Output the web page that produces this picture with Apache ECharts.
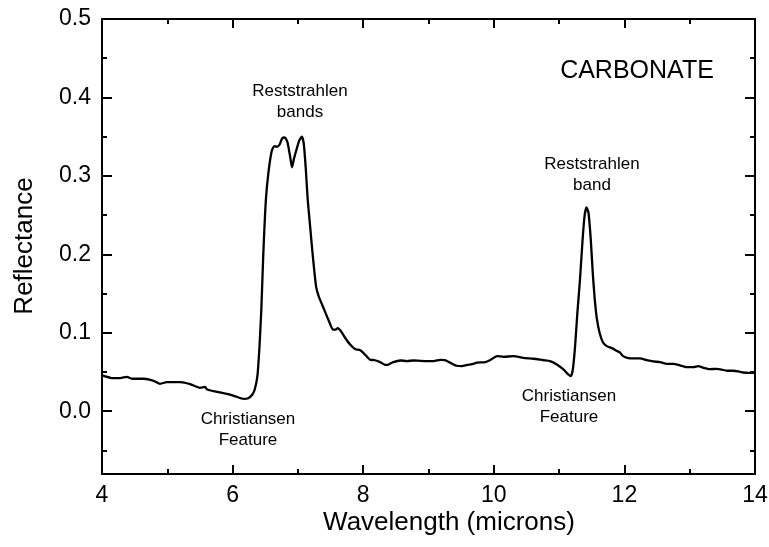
<!DOCTYPE html>
<html>
<head>
<meta charset="utf-8">
<script src="https://cdn.jsdelivr.net/npm/echarts@6/dist/echarts.min.js"></script>
<style>
  html, body { margin: 0; padding: 0; background: #fff; }
  #main { width: 769px; height: 547px; }
</style>
</head>
<body>
<div id="main"></div>
<script>
// spectrum: wavelength (microns) / reflectance
const wavelength = [
  4.00, 4.13, 4.28, 4.38, 4.46, 4.64, 4.79, 4.89, 4.99, 5.20,
  5.35, 5.50, 5.58, 5.61, 5.76, 6.01, 6.17, 6.24, 6.30, 6.34,
  6.38, 6.41, 6.44, 6.47, 6.51, 6.55, 6.60, 6.64, 6.68, 6.72,
  6.76, 6.80, 6.84, 6.88, 6.91, 6.94, 6.98, 7.02, 7.06, 7.09,
  7.12, 7.15, 7.19, 7.22, 7.25, 7.28, 7.32, 7.37, 7.42, 7.47,
  7.54, 7.58, 7.61, 7.66, 7.72, 7.80, 7.88, 7.95, 8.03, 8.10,
  8.18, 8.26, 8.34, 8.39, 8.46, 8.57, 8.67, 8.77, 8.87, 8.97,
  9.08, 9.18, 9.25, 9.33, 9.43, 9.51, 9.59, 9.69, 9.74, 9.87,
  9.94, 10.05, 10.15, 10.30, 10.45, 10.61, 10.76, 10.86, 10.965, 11.07,
  11.14, 11.18, 11.21, 11.245, 11.28, 11.32, 11.36, 11.39, 11.42, 11.45,
  11.485, 11.515, 11.546, 11.58, 11.62, 11.67, 11.73, 11.81, 11.88, 11.93,
  11.98, 12.06, 12.14, 12.24, 12.34, 12.44, 12.55, 12.65, 12.75, 12.85,
  12.955, 13.06, 13.13, 13.21, 13.31, 13.41, 13.49, 13.57, 13.67, 13.745,
  13.82, 13.90, 14.00
];
const reflectance = [
  0.0456, 0.0426, 0.0422, 0.0439, 0.0414, 0.0414, 0.0388, 0.0350, 0.0370, 0.0370,
  0.0345, 0.0299, 0.0310, 0.0277, 0.0248, 0.0200, 0.0158, 0.0166, 0.0210, 0.0280,
  0.0450, 0.0800, 0.1300, 0.2000, 0.2700, 0.3050, 0.3320, 0.3380, 0.3370, 0.3400,
  0.3480, 0.3490, 0.3430, 0.3250, 0.3110, 0.3220, 0.3340, 0.3450, 0.3500, 0.3410,
  0.3100, 0.2700, 0.2330, 0.2050, 0.1800, 0.1580, 0.1460, 0.1360, 0.1260, 0.1160,
  0.1040, 0.1040, 0.1060, 0.1020, 0.0940, 0.0850, 0.0790, 0.0780, 0.0720, 0.0660,
  0.0650, 0.0626, 0.0590, 0.0596, 0.0626, 0.0647, 0.0640, 0.0647, 0.0643, 0.0640,
  0.0640, 0.0656, 0.0652, 0.0620, 0.0580, 0.0575, 0.0590, 0.0605, 0.0620, 0.0626,
  0.0650, 0.0702, 0.0694, 0.0702, 0.0680, 0.0669, 0.0650, 0.0639, 0.0596, 0.0530,
  0.0470, 0.0447, 0.0530, 0.0830, 0.1257, 0.1680, 0.2190, 0.2490, 0.2597, 0.2530,
  0.2190, 0.1770, 0.1427, 0.1170, 0.1000, 0.0880, 0.0830, 0.0805, 0.0770, 0.0750,
  0.0702, 0.0677, 0.0673, 0.0673, 0.0652, 0.0635, 0.0626, 0.0605, 0.0605, 0.0584,
  0.0562, 0.0562, 0.0575, 0.0554, 0.0537, 0.0540, 0.0532, 0.0516, 0.0516, 0.0507,
  0.0494, 0.0490, 0.0490
];

// y axis ticks (axis starts at -0.08, so ticks are listed by hand)
const yMajorTicks = [0, 0.1, 0.2, 0.3, 0.4, 0.5];
const yMinorTicks = [-0.05, 0.05, 0.15, 0.25, 0.35, 0.45];

const FONT = "'Liberation Sans', Arial, Helvetica, sans-serif";
const black = '#000';

let chart = echarts.init(document.getElementById('main'), null, { renderer: 'canvas' });

let data = [];
for (let i = 0; i < wavelength.length; i++) {
  data.push([wavelength[i], reflectance[i]]);
}

function xAxisOf(pos, labels) {
  return {
    type: 'value',
    position: pos,
    min: 4,
    max: 14,
    interval: 2,
    axisLine: { show: true, onZero: false, lineStyle: { color: black, width: 2 } },
    axisTick: { show: true, inside: true, length: 9, lineStyle: { color: black, width: 2 } },
    minorTick: { show: true, splitNumber: 2, length: 5, lineStyle: { color: black, width: 2 } },
    axisLabel: { show: labels, color: black, fontSize: 23, fontFamily: FONT, margin: 10 },
    splitLine: { show: false },
    minorSplitLine: { show: false },
  };
}

function yAxisOf(pos, ticks, len, withLine, labels) {
  return {
    type: 'value',
    position: pos,
    offset: 0,
    min: -0.08,
    max: 0.5,
    axisLine: { show: withLine, onZero: false, lineStyle: { color: black, width: 2 } },
    axisTick: { show: true, inside: true, length: len, customValues: ticks, lineStyle: { color: black, width: 2 } },
    axisLabel: {
      show: labels,
      customValues: yMajorTicks,
      color: black,
      fontSize: 23,
      fontFamily: FONT,
      margin: 11,
      formatter: function (v) {
        return v.toFixed(1);
      },
    },
    splitLine: { show: false },
  };
}

function note(text, x, y, size) {
  return {
    type: 'text',
    x: x,
    y: y,
    style: {
      text: text,
      fill: black,
      fontSize: size,
      fontFamily: FONT,
      lineHeight: 21,
      align: 'center',
      verticalAlign: 'top',
      textAlign: 'center',
      textVerticalAlign: 'top',
    },
  };
}

let option = {
  animation: false,
  backgroundColor: '#fff',
  grid: { left: 102, right: 14, top: 19, bottom: 73, containLabel: false, outerBoundsMode: 'none' },
  xAxis: [xAxisOf('bottom', true), xAxisOf('top', false)],
  yAxis: [
    yAxisOf('left', yMajorTicks, 10, true, true),
    yAxisOf('left', yMinorTicks, 5, false, false),
    yAxisOf('right', yMajorTicks, 10, true, false),
    yAxisOf('right', yMinorTicks, 5, false, false),
  ],
  series: [
    {
      type: 'line',
      xAxisIndex: 0,
      yAxisIndex: 0,
      data: data,
      showSymbol: false,
      smooth: 0.2,
      lineStyle: { color: black, width: 2.3 },
    },
  ],
  graphic: [
    note('Reststrahlen\nbands', 300, 81, 17),
    note('Reststrahlen\nband', 592, 154, 17),
    note('Christiansen\nFeature', 248, 409, 17),
    note('Christiansen\nFeature', 569, 386, 17),
    {
      type: 'text',
      x: 637,
      y: 71,
      style: {
        text: 'CARBONATE', fill: black, fontSize: 25, fontFamily: FONT,
        align: 'center', verticalAlign: 'middle', textAlign: 'center', textVerticalAlign: 'middle',
      },
    },
    {
      type: 'text',
      x: 449,
      y: 523,
      style: {
        text: 'Wavelength (microns)', fill: black, fontSize: 26, fontFamily: FONT,
        align: 'center', verticalAlign: 'middle', textAlign: 'center', textVerticalAlign: 'middle',
      },
    },
    {
      type: 'text',
      x: 25,
      y: 246,
      rotation: Math.PI / 2,
      style: {
        text: 'Reflectance', fill: black, fontSize: 26, fontFamily: FONT,
        align: 'center', verticalAlign: 'middle', textAlign: 'center', textVerticalAlign: 'middle',
      },
    },
  ],
};

chart.setOption(option);
</script>
</body>
</html>
